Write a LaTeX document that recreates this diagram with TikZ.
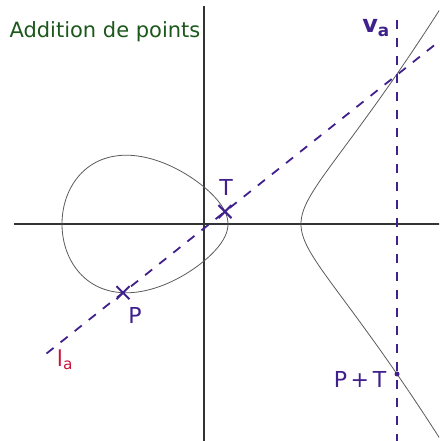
\documentclass[tikz,border=0pt]{standalone}
\usepackage{fontspec}
\setmainfont{DejaVu Sans}
\usetikzlibrary{calc, shapes.misc}
\definecolor{cIndigo}{RGB}{64,32,140}
\definecolor{cGreen}{RGB}{28,88,28}
\definecolor{cRed}{RGB}{200,20,60}
\definecolor{cCurve}{RGB}{90,90,90}
\tikzset{
	axis/.style    ={line width=1.1pt, black!80},
	curve/.style   ={line width=0.8pt, cCurve},
	secant/.style  ={line width=1.8pt, cIndigo, dash pattern=on 9pt off 9pt},
	ptcross/.style ={cross out, draw=cIndigo, line width=2pt, minimum size=11pt, inner sep=0pt},
	ptdot/.style   ={circle, fill=cIndigo, minimum size=5pt, inner sep=0pt},
	lbl/.style     ={cIndigo, font=\fontsize{22}{26}\selectfont},
}

\begin{document}
\begin{tikzpicture}[x=10pt, y=10pt]
	\clip (-20.4,-21.7) rectangle (23.5,22.4);
	% axes
	\coordinate (yt) at (0,21.8);
	\coordinate (yb) at (0,-21.8);
	\coordinate (xl) at (-19.0,0);
	\coordinate (xr) at (23.6,0);
	\draw[axis] (yb) -- (yt);
	\draw[axis] (xl) -- (xr);
	% curve: oval and right branch
	\draw[curve] plot[domain=0:358, samples=180, smooth cycle, variable=\t]
		({-14.2+16.6*sin(\t)^2}, {3.378*sin(\t)*cos(\t)*sqrt(9.7-(-14.2+16.6*sin(\t)^2))});
	\draw[curve] plot[domain=-3.9:3.9, samples=120, smooth, variable=\s]
		({9.7+\s*\s}, {0.2035*\s*sqrt((23.9+\s*\s)*(7.3+\s*\s))});
	% points
	\node[ptcross] (P) at (-8.1,-6.87) {};
	\node[ptcross] (T) at (2.1,1.24) {};
	\node[ptdot] (PT) at (19.3,-15.0) {};
	\coordinate (vtop) at (19.3,20.4);
	\coordinate (vbot) at (19.3,-21.8);
	% line l_a and vertical v_a
	\draw[secant] ($(P)!-0.75!(T)$) -- ($(P)!3.05!(T)$);
	\draw[secant] (vtop) -- (vbot);
	% labels
	\node[lbl] (Tl) at (2.2,3.7) {T};
	\node[lbl] (Pl) at (-6.9,-9.1) {P};
	\node[lbl] (PTl) at (15.6,-15.5) {P{\,}+{\,}T};
	\node[lbl, font=\fontsize{24}{28}\selectfont\bfseries] (val) at (17.2,19.6) {v\textsubscript{a}};
	\node[lbl, cRed] (lal) at (-13.9,-13.6) {l\textsubscript{a}};
	\node[cGreen, anchor=base west, font=\fontsize{21}{25}\selectfont] (title) at (-19.8,18.6)
		{Addition de points};
\end{tikzpicture}
\end{document}
